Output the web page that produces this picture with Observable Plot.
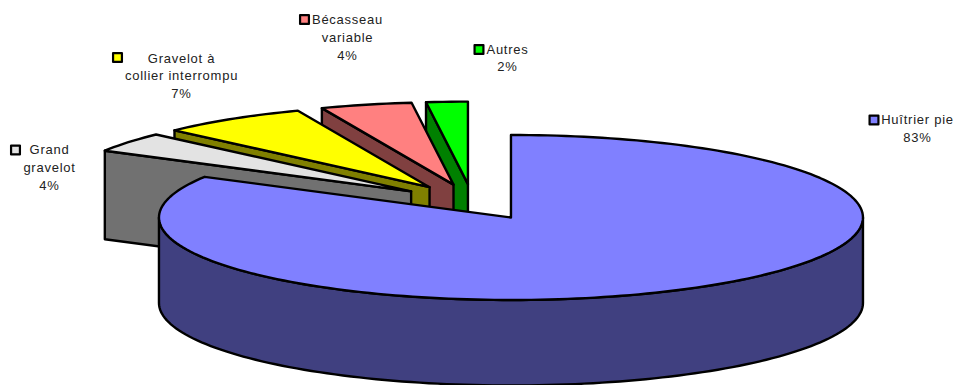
<!DOCTYPE html>
<html><head><meta charset="utf-8">
<script src="https://cdn.jsdelivr.net/npm/d3@7"></script>
<script src="https://cdn.jsdelivr.net/npm/@observablehq/plot@0.6"></script>
<style>html,body{margin:0;padding:0;background:#fff;overflow:hidden}svg{display:block}</style>
</head><body><div id="chart"></div>
<script>
const species = ["Huîtrier pie","Grand gravelot","Gravelot à collier interrompu","Bécasseau variable","Autres"];
const shares = [83.2,3.9,6.8,4.2,1.9];
const topColors = ["#8080ff","#e3e3e3","#ffff00","#ff8080","#00ff00"];
const wallColors = ["#404080","#717171","#808000","#804040","#008000"];
const labelLines = [["Huîtrier pie","83%"],["Grand","gravelot","4%"],["Gravelot à","collier interrompu","7%"],["Bécasseau","variable","4%"],["Autres","2%"]];

const W=957,H=385, CX=472, CY=201.5, RX=352, RY=82.5, EXPLODE=0.217, DEPTH_BACK=88.5/82.5, DEPTH_MAIN=85.5/82.5;
const rad=d=>d*Math.PI/180;
const pt=(a,c,z=0)=>({x:c.x+Math.sin(rad(a)),y:c.y+Math.cos(rad(a))-z});
let acc=0;
const slices=shares.map((s,i)=>{const a0=acc; acc+=s*3.6; const a1=acc; const m=(a0+a1)/2;
  return {i,a0,a1,c:{x:EXPLODE*Math.sin(rad(m)),y:EXPLODE*Math.cos(rad(m))}};});
const arc=(a0,a1,c,z=0)=>{const n=Math.max(2,Math.ceil((a1-a0)/1.5));return d3.range(n+1).map(k=>pt(a0+(a1-a0)*k/n,c,z));};
const poly=(pts,fill)=>Plot.line([...pts,pts[0]],{x:"x",y:"y",fill,stroke:"#000",strokeWidth:2.4,strokeLinejoin:"round"});
const marks=[];
// back slices, farthest first
for(const s of [...slices.slice(1)].reverse()){
  const c=s.c, a=pt(s.a0,c), az=pt(s.a0,c,DEPTH_BACK), o={x:c.x,y:c.y}, oz={x:c.x,y:c.y-DEPTH_BACK};
  marks.push(poly([a,o,oz,az],wallColors[s.i]));
  marks.push(poly([o,...arc(s.a0,s.a1,c)],topColors[s.i]));
}
// main slice
{const s=slices[0],c=s.c;
 marks.push(poly([...arc(90,270,c),...arc(90,270,c,DEPTH_MAIN).reverse()],wallColors[0]));
 marks.push(poly([{x:c.x,y:c.y},...arc(s.a0,s.a1,c)],topColors[0]));
}
// labels
const font={fontFamily:"Liberation Sans, Arial, sans-serif",fontSize:13,fill:"#222",frameAnchor:"top-left",textAnchor:"middle",lineAnchor:"middle"};
const labelLayout=[{cx:917,y0:119.5,sx:873.5,sy:119.5},{cx:49,y0:149.5,sx:15,sy:149.5},{cx:181,y0:58,sx:117,sy:57},{cx:347,y0:19.5,sx:304,sy:19},{cx:507,y0:49,sx:478.5,sy:49}];
labelLines.forEach((lines,i)=>{const L=labelLayout[i];
  lines.forEach((t,j)=>marks.push(Plot.text([t],{...font,text:d=>d,dx:L.cx,dy:L.y0+j*17.8})));
  marks.push(Plot.dot([species[i]],{frameAnchor:"top-left",dx:L.sx,dy:L.sy,symbol:"square",r:5,fill:topColors[i],stroke:"#000",strokeWidth:2.2,strokeLinejoin:"round"}));
});
const chart=Plot.plot({width:W,height:H,margin:0,
  x:{domain:[-1,1],range:[CX-RX,CX+RX],axis:null},
  y:{domain:[1,-1],range:[CY-RY,CY+RY],axis:null},
  style:{background:"#fff",overflow:"hidden",letterSpacing:"0.75px"},marks});
document.getElementById("chart").append(chart);
</script></body></html>
